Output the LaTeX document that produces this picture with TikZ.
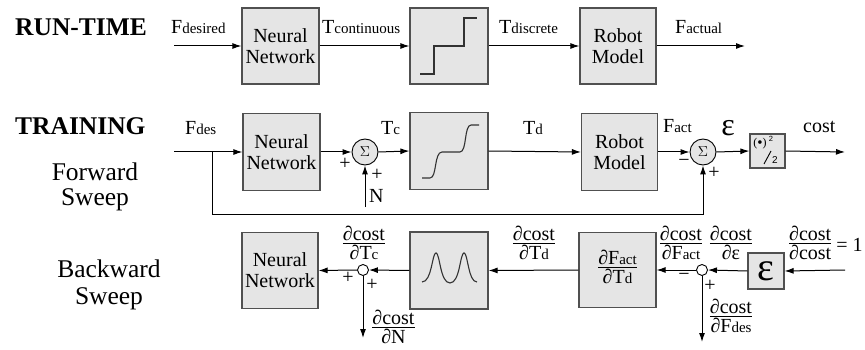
\documentclass[tikz,border=0pt]{standalone}
\usepackage{fontspec}
\setmainfont{Liberation Serif}
\setsansfont{Liberation Sans}
\usetikzlibrary{arrows.meta}
\definecolor{boxfill}{RGB}{229,229,229}
\definecolor{boxline}{RGB}{80,80,80}
\definecolor{curve}{RGB}{50,50,50}
\newcommand\lbl{\fontsize{20}{21}\selectfont}
\newcommand\sbs[1]{{\fontsize{15}{15}\selectfont #1}}
\newcommand\fr[2]{{\renewcommand\arraystretch{1}\setlength\arrayrulewidth{0.9pt}\begin{tabular}[c]{@{}c@{}}#1\\[-4pt]\hline\noalign{\vskip 1pt}#2\end{tabular}}}
\tikzset{
  blk/.style={draw=boxline, fill=boxfill, line width=1.2pt, inner sep=0pt, align=center, font=\lbl},
  sumc/.style={circle, draw=black, fill=boxfill, line width=0.9pt, minimum size=26pt, inner sep=0pt, font=\fontsize{15}{15}\selectfont},
  junc/.style={circle, draw=black, fill=white, line width=0.9pt, minimum size=11pt, inner sep=0pt},
  arr/.style={line width=1pt, -{Latex[length=9pt,width=6pt]}},
  ln/.style={line width=1pt},
  txt/.style={font=\lbl, inner sep=0pt},
  big/.style={font=\fontsize{25.5}{27}\selectfont, inner sep=0pt, align=center},
  crv/.style={draw=curve, line width=1.1pt},
}
\begin{document}
\begin{tikzpicture}[x=1pt, y=-1pt]
\useasboundingbox (0,0) rectangle (865,350);
% ---------------- RUN-TIME
\node[big, anchor=base west, font=\fontsize{25.5}{27}\selectfont\bfseries] (rt) at (15,36) {RUN-TIME};
\node[blk, minimum width=77pt, minimum height=76pt] (nn1) at (280.5,46) {Neural\\Network};
\node[blk, minimum width=78pt, minimum height=76pt] (st) at (449,46) {};
\node[blk, minimum width=76pt, minimum height=76pt] (rm1) at (618,46) {Robot\\Model};
\coordinate (in1) at (174,46);
\coordinate (out1) at (745,46);
\draw[arr] (in1) -- (nn1.west);
\draw[arr] (nn1.east) -- (st.west);
\draw[arr] (st.east) -- (rm1.west);
\draw[arr] (rm1.east) -- (out1);
\draw[crv] (420,74) -- (434,74) -- (434,46) -- (464,46) -- (464,18) -- (477,18);
\node[txt, anchor=base west] (l1) at (171,34) {F\sbs{desired}};
\node[txt, anchor=base west] (l2) at (322,34) {T\sbs{continuous}};
\node[txt, anchor=base west] (l3) at (499,34) {T\sbs{discrete}};
\node[txt, anchor=base west] (l4) at (675,34) {F\sbs{actual}};
% ---------------- TRAINING forward
\node[big, anchor=base west, font=\fontsize{25.5}{27}\selectfont\bfseries] (tr) at (15,135) {TRAINING};
\node[big, anchor=base] (fw) at (95,181) {Forward};
\node[big, anchor=base] (fws) at (95,205) {Sweep};
\node[blk, minimum width=77pt, minimum height=77pt] (nn2) at (281.5,152) {Neural\\Network};
\node[sumc] (s1) at (365,152) {$\Sigma$};
\node[blk, minimum width=78pt, minimum height=77pt] (sg) at (449,151) {};
\node[blk, minimum width=76pt, minimum height=77pt] (rm2) at (619.5,152) {Robot\\Model};
\node[sumc] (s2) at (703,152) {$\Sigma$};
\node[blk, minimum width=35pt, minimum height=34pt] (cb) at (767.5,151) {};
\coordinate (in2) at (174,152);
\coordinate (fb) at (212,152);
\coordinate (fb1) at (212,214);
\coordinate (fb2) at (703,214);
\coordinate (nin) at (365,207);
\coordinate (out2) at (845,152);
\draw[arr] (in2) -- (nn2.west);
\draw[arr] (nn2.east) -- (s1.west);
\draw[arr] (s1.east) -- (sg.west);
\draw[arr] (sg.east) -- (rm2.west);
\draw[arr] (rm2.east) -- (s2.west);
\draw[arr] (s2.east) -- (cb.west);
\draw[arr] (cb.east) -- (out2);
\draw[arr] (fb) -- (fb1) -- (fb2) -- (s2.south);
\draw[arr] (nin) -- (s1.south);
\draw[crv] (422,178) -- (430,178) .. controls (437,178) and (434,152) .. (442,152) -- (460,152) .. controls (467,152) and (464,125) .. (471,125) -- (479,125);
\node[font=\fontsize{12}{12}\selectfont, inner sep=0pt] (dot) at (760,144) {(\raisebox{-0.5pt}{\fontsize{15}{15}\selectfont\textbullet})};
\node[font=\sffamily\fontsize{7.5}{7.5}\selectfont, inner sep=0pt] (sq) at (771,139) {2};
\draw[line width=0.9pt] (764,164) -- (771,151);
\node[font=\sffamily\fontsize{10}{10}\selectfont, inner sep=0pt] (half) at (775,160) {2};
\node[txt, anchor=base west] (m1) at (185,135) {F\sbs{des}};
\node[txt, anchor=base west] (m2) at (381,135) {T\sbs{c}};
\node[txt, anchor=base west] (m3) at (523,135) {T\sbs{d}};
\node[txt, anchor=base west] (m4) at (663,133) {F\sbs{act}};
\node[txt, font=\fontsize{32}{32}\selectfont] (m5) at (728,128) {ε};
\node[txt, anchor=base west] (m6) at (803,133) {cost};
\node[txt, anchor=base west] (nl) at (369,202) {N};
\node[txt] (p1) at (345,164) {+};
\node[txt] (p2) at (377,175) {+};
\node[txt] (p3) at (684,163) {−};
\node[txt] (p4) at (714,173) {+};
% ---------------- backward
\node[big, anchor=base] (bw) at (109,277) {Backward};
\node[big, anchor=base] (bws) at (109,304) {Sweep};
\node[blk, minimum width=76pt, minimum height=76pt] (nn3) at (280,270.5) {Neural\\Network};
\node[junc] (j1) at (363,270) {};
\node[blk, minimum width=78pt, minimum height=77pt] (pk) at (449,270.5) {};
\node[blk, minimum width=77pt, minimum height=75pt] (dfd) at (617.5,270) {\fr{∂F\sbs{act}}{∂T\sbs{d}}};
\node[junc] (j2) at (702,270) {};
\node[blk, minimum width=36pt, minimum height=36pt, font=\fontsize{40}{40}\selectfont] (eb) at (766,271) {ε};
\coordinate (in3) at (845,270);
\coordinate (dn1) at (363,338);
\coordinate (dn2) at (702,342);
\draw[arr] (in3) -- (eb.east);
\draw[arr] (eb.west) -- (j2.east);
\draw[arr] (j2.west) -- (dfd.east);
\draw[arr] (dfd.west) -- (pk.east);
\draw[arr] (pk.west) -- (j1.east);
\draw[arr] (j1.west) -- (nn3.east);
\draw[arr] (j1.south) -- (dn1);
\draw[arr] (j2.south) -- (dn2);
\draw[crv] (422,282) .. controls (432,282) and (432,253) .. (436,253) .. controls (440,253) and (440,283) .. (450,283) .. controls (460,283) and (460,253) .. (464,253) .. controls (468,253) and (468,282) .. (477,282);
\node[txt] (b1) at (364,246) {\fr{∂cost}{∂T\sbs{c}}};
\node[txt] (b2) at (393.5,330) {\fr{∂cost}{∂N}};
\node[txt] (b3) at (534,246) {\fr{∂cost}{∂T\sbs{d}}};
\node[txt] (b4) at (681,246) {\fr{∂cost}{∂F\sbs{act}}};
\node[txt] (b5) at (731,246) {\fr{∂cost}{∂ε}};
\node[txt, anchor=west] (b6) at (789,246) {\fr{∂cost}{∂cost} = 1};
\node[txt] (b7) at (731,319) {\fr{∂cost}{∂F\sbs{des}}};
\node[txt] (q1) at (348,278) {+};
\node[txt] (q2) at (372,285) {+};
\node[txt] (q3) at (684,277) {−};
\node[txt] (q4) at (710,286) {+};
\end{tikzpicture}
\end{document}
